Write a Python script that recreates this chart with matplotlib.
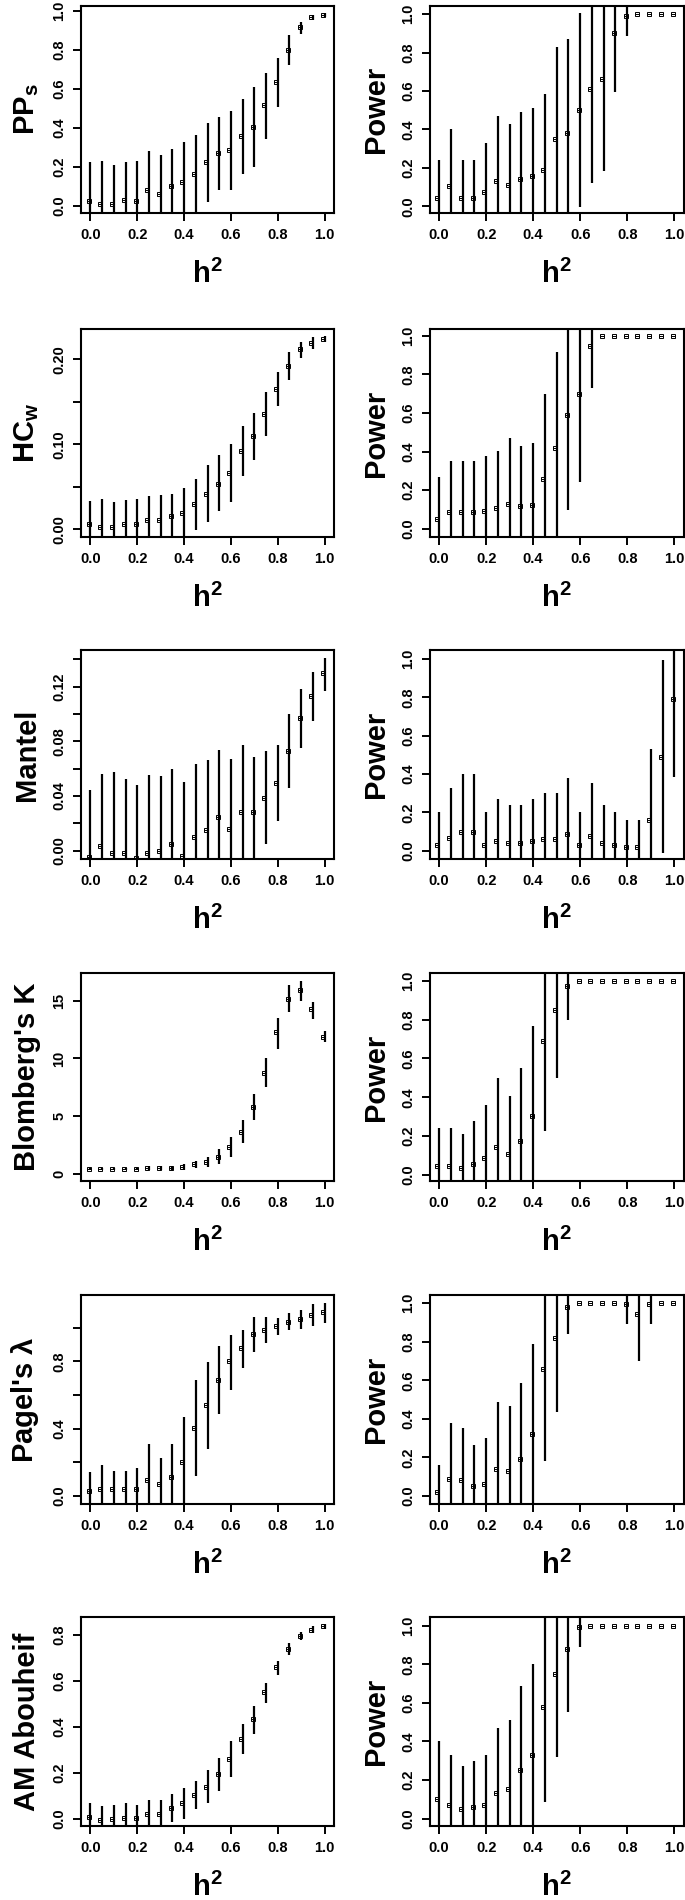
import matplotlib
matplotlib.use("Agg")
import matplotlib.pyplot as plt
import matplotlib.transforms as mtransforms
import numpy as np

plt.rcParams['font.family'] = ['Liberation Sans', 'DejaVu Sans']
plt.rcParams['font.weight'] = 'bold'
plt.rcParams['axes.labelweight'] = 'bold'
plt.rcParams['mathtext.fontset'] = 'custom'
plt.rcParams['mathtext.rm'] = 'Liberation Sans:bold'
plt.rcParams['mathtext.it'] = 'Liberation Sans:bold'
plt.rcParams['mathtext.bf'] = 'Liberation Sans:bold'

h2 = [0.0, 0.05, 0.1, 0.15, 0.2, 0.25, 0.3, 0.35, 0.4, 0.45, 0.5,
      0.55, 0.6, 0.65, 0.7, 0.75, 0.8, 0.85, 0.9, 0.95, 1.0]

# statistic values (median, lower, upper); lower/upper beyond the axis are clipped
pps_med = [0.022, 0.010, 0.010, 0.031, 0.022, 0.082, 0.062, 0.103, 0.120, 0.164, 0.222,
           0.270, 0.287, 0.359, 0.407, 0.518, 0.638, 0.800, 0.920, 0.971, 0.979]
pps_lo = [-0.1, -0.1, -0.1, -0.1, -0.1, -0.1, -0.1, -0.1, -0.1, -0.1, 0.017,
          0.082, 0.082, 0.164, 0.197, 0.344, 0.506, 0.723, 0.885, 0.957, 0.968]
pps_hi = [0.222, 0.227, 0.207, 0.222, 0.227, 0.279, 0.262, 0.292, 0.325, 0.361, 0.427,
          0.458, 0.487, 0.549, 0.609, 0.684, 0.762, 0.877, 0.944, 0.983, 0.990]

pps_pow_med = [0.045, 0.104, 0.045, 0.045, 0.073, 0.133, 0.112, 0.144, 0.156, 0.190, 0.351,
               0.384, 0.502, 0.612, 0.664, 0.903, 0.991, 1.0, 1.0, 1.0, 1.0]
pps_pow_lo = [-0.1, -0.1, -0.1, -0.1, -0.1, -0.1, -0.1, -0.1, -0.1, -0.1, -0.1,
              -0.1, -0.003, 0.119, 0.185, 0.595, 0.888, 1.0, 1.0, 1.0, 1.0]
pps_pow_hi = [0.242, 0.405, 0.242, 0.242, 0.332, 0.472, 0.429, 0.493, 0.514, 0.585, 0.830,
              0.870, 1.007, 1.1, 1.1, 1.1, 1.1, 1.0, 1.0, 1.0, 1.0]

hcw_med = [0.0059, 0.0028, 0.0028, 0.0059, 0.0059, 0.0106, 0.0106, 0.0153, 0.0193, 0.0295, 0.042,
           0.0538, 0.0664, 0.0919, 0.110, 0.1356, 0.165, 0.192, 0.2118, 0.2196, 0.224]
hcw_lo = [-0.02, -0.02, -0.02, -0.02, -0.02, -0.02, -0.02, -0.02, -0.02, -0.001, 0.0086,
          0.0212, 0.0322, 0.0629, 0.0813, 0.1096, 0.145, 0.1756, 0.202, 0.2122, 0.220]
hcw_hi = [0.033, 0.0354, 0.0322, 0.0342, 0.0354, 0.0389, 0.0401, 0.0413, 0.0487, 0.0589, 0.0754,
          0.0872, 0.1002, 0.1214, 0.1371, 0.1619, 0.1855, 0.209, 0.2208, 0.2267, 0.2275]

hcw_pow_med = [0.050, 0.085, 0.085, 0.085, 0.093, 0.105, 0.130, 0.116, 0.121, 0.259, 0.421,
               0.591, 0.699, 0.950, 1.0, 1.0, 1.0, 1.0, 1.0, 1.0, 1.0]
hcw_pow_lo = [-0.1, -0.1, -0.1, -0.1, -0.1, -0.1, -0.1, -0.1, -0.1, -0.1, -0.1,
              0.095, 0.240, 0.729, 1.0, 1.0, 1.0, 1.0, 1.0, 1.0, 1.0]
hcw_pow_hi = [0.268, 0.352, 0.352, 0.352, 0.378, 0.404, 0.473, 0.427, 0.447, 0.699, 0.919,
              1.1, 1.1, 1.1, 1.0, 1.0, 1.0, 1.0, 1.0, 1.0, 1.0]

mantel_med = [-0.0044, 0.0034, -0.0015, -0.002, -0.0056, -0.0015, 0.0, 0.0049, -0.0039, 0.0102, 0.0151,
              0.0249, 0.0159, 0.0285, 0.0285, 0.0388, 0.0498, 0.0732, 0.0973, 0.1134, 0.1298]
mantel_lo = [-0.02, -0.02, -0.02, -0.02, -0.02, -0.02, -0.02, -0.02, -0.02, -0.02, -0.02,
             -0.02, -0.02, -0.02, -0.02, 0.0046, 0.022, 0.0456, 0.0754, 0.0949, 0.117]
mantel_hi = [0.0444, 0.0561, 0.0573, 0.0524, 0.048, 0.0554, 0.0546, 0.0598, 0.0505, 0.0634, 0.0663,
             0.0737, 0.0671, 0.0773, 0.0683, 0.0729, 0.0773, 0.100, 0.118, 0.1305, 0.1407]

mantel_pow_med = [0.031, 0.066, 0.097, 0.097, 0.031, 0.050, 0.042, 0.042, 0.050, 0.061, 0.061,
                  0.089, 0.031, 0.078, 0.042, 0.031, 0.021, 0.021, 0.160, 0.490, 0.791]
mantel_pow_lo = [-0.1, -0.1, -0.1, -0.1, -0.1, -0.1, -0.1, -0.1, -0.1, -0.1, -0.1,
                 -0.1, -0.1, -0.1, -0.1, -0.1, -0.1, -0.1, -0.1, -0.014, 0.383]
mantel_pow_hi = [0.200, 0.329, 0.400, 0.400, 0.200, 0.270, 0.238, 0.238, 0.270, 0.299, 0.299,
                 0.377, 0.200, 0.351, 0.238, 0.200, 0.160, 0.160, 0.530, 0.995, 1.1]

k_med = [0.42, 0.42, 0.42, 0.42, 0.42, 0.52, 0.52, 0.52, 0.62, 0.85, 1.07,
         1.5, 2.31, 3.67, 5.84, 8.73, 12.25, 15.17, 15.9, 14.28, 11.9]
k_lo = [0.3, 0.3, 0.3, 0.3, 0.3, 0.35, 0.35, 0.35, 0.35, 0.49, 0.64,
        0.87, 1.5, 2.66, 4.68, 7.57, 10.84, 13.99, 14.94, 13.44, 11.39]
k_hi = [0.55, 0.55, 0.55, 0.55, 0.55, 0.7, 0.7, 0.7, 0.87, 1.13, 1.45,
        2.17, 3.18, 4.68, 6.91, 10.03, 13.5, 16.39, 16.73, 14.88, 12.34]

k_pow_med = [0.046, 0.046, 0.038, 0.057, 0.086, 0.143, 0.108, 0.175, 0.304, 0.691, 0.851,
             0.971, 1.0, 1.0, 1.0, 1.0, 1.0, 1.0, 1.0, 1.0, 1.0]
k_pow_lo = [-0.1, -0.1, -0.1, -0.1, -0.1, -0.1, -0.1, -0.1, -0.1, 0.229, 0.498,
            0.796, 1.0, 1.0, 1.0, 1.0, 1.0, 1.0, 1.0, 1.0, 1.0]
k_pow_hi = [0.244, 0.244, 0.211, 0.280, 0.361, 0.498, 0.407, 0.550, 0.765, 1.1, 1.1,
            1.1, 1.0, 1.0, 1.0, 1.0, 1.0, 1.0, 1.0, 1.0, 1.0]

lam_med = [0.032, 0.042, 0.042, 0.042, 0.042, 0.095, 0.072, 0.115, 0.203, 0.404, 0.543,
           0.692, 0.801, 0.877, 0.964, 0.986, 1.010, 1.036, 1.054, 1.076, 1.093]
lam_lo = [-0.1, -0.1, -0.1, -0.1, -0.1, -0.1, -0.1, -0.1, -0.1, 0.121, 0.280,
          0.489, 0.632, 0.761, 0.855, 0.907, 0.956, 0.984, 0.990, 1.010, 1.026]
lam_hi = [0.141, 0.185, 0.151, 0.151, 0.165, 0.310, 0.225, 0.310, 0.467, 0.688, 0.795,
          0.891, 0.960, 0.984, 1.064, 1.064, 1.060, 1.085, 1.105, 1.139, 1.149]

lam_pow_med = [0.021, 0.089, 0.083, 0.052, 0.063, 0.141, 0.130, 0.193, 0.323, 0.660, 0.821,
               0.983, 1.0, 1.0, 1.0, 1.0, 0.995, 0.943, 0.995, 1.0, 1.0]
lam_pow_lo = [-0.1, -0.1, -0.1, -0.1, -0.1, -0.1, -0.1, -0.1, -0.1, 0.182, 0.434,
              0.839, 1.0, 1.0, 1.0, 1.0, 0.891, 0.700, 0.891, 1.0, 1.0]
lam_pow_hi = [0.161, 0.378, 0.352, 0.262, 0.300, 0.488, 0.469, 0.587, 0.790, 1.1, 1.1,
              1.1, 1.0, 1.0, 1.0, 1.0, 1.1, 1.1, 1.1, 1.0, 1.0]

am_med = [0.009, -0.006, -0.001, 0.003, 0.003, 0.020, 0.020, 0.048, 0.070, 0.103, 0.139,
          0.193, 0.260, 0.347, 0.433, 0.549, 0.658, 0.739, 0.796, 0.822, 0.836]
am_lo = [-0.05, -0.05, -0.05, -0.05, -0.05, -0.05, -0.05, -0.013, 0.0, 0.041, 0.067,
         0.122, 0.179, 0.280, 0.367, 0.502, 0.626, 0.710, 0.779, 0.807, 0.825]
am_hi = [0.067, 0.055, 0.060, 0.067, 0.060, 0.081, 0.081, 0.107, 0.135, 0.164, 0.212,
         0.263, 0.338, 0.412, 0.491, 0.589, 0.687, 0.764, 0.812, 0.836, 0.846]

am_pow_med = [0.102, 0.071, 0.050, 0.059, 0.071, 0.135, 0.154, 0.253, 0.330, 0.581, 0.751,
              0.881, 0.991, 1.0, 1.0, 1.0, 1.0, 1.0, 1.0, 1.0, 1.0]
am_pow_lo = [-0.1, -0.1, -0.1, -0.1, -0.1, -0.1, -0.1, -0.1, -0.1, 0.085, 0.317,
             0.555, 0.889, 1.0, 1.0, 1.0, 1.0, 1.0, 1.0, 1.0, 1.0]
am_pow_hi = [0.403, 0.330, 0.275, 0.299, 0.330, 0.472, 0.512, 0.689, 0.803, 1.1, 1.1,
             1.1, 1.1, 1.0, 1.0, 1.0, 1.0, 1.0, 1.0, 1.0, 1.0]

stat_labels = ["PP$_\\mathregular{s}$", "HC$_\\mathregular{w}$", "Mantel",
               "Blomberg's K", "Pagel's $\\lambda$", "AM Abouheif"]

stats = [(pps_med, pps_lo, pps_hi), (hcw_med, hcw_lo, hcw_hi),
         (mantel_med, mantel_lo, mantel_hi), (k_med, k_lo, k_hi),
         (lam_med, lam_lo, lam_hi), (am_med, am_lo, am_hi)]
powers = [(pps_pow_med, pps_pow_lo, pps_pow_hi), (hcw_pow_med, hcw_pow_lo, hcw_pow_hi),
          (mantel_pow_med, mantel_pow_lo, mantel_pow_hi), (k_pow_med, k_pow_lo, k_pow_hi),
          (lam_pow_med, lam_pow_lo, lam_pow_hi), (am_pow_med, am_pow_lo, am_pow_hi)]

stat_ylims = [(-0.038, 1.027), (-0.009, 0.2358), (-0.0061, 0.1468),
              (-0.61, 17.4), (-0.048, 1.195), (-0.032, 0.877)]
pow_ylims = [(-0.035, 1.043), (-0.043, 1.036), (-0.0435, 1.047),
             (-0.031, 1.040), (-0.042, 1.043), (-0.038, 1.045)]

# y ticks: (all ticks, labelled ticks)
stat_ticks = [([0, 0.2, 0.4, 0.6, 0.8, 1.0], ["0.0", "0.2", "0.4", "0.6", "0.8", "1.0"]),
              ([0, 0.05, 0.10, 0.15, 0.20], ["0.00", "", "0.10", "", "0.20"]),
              ([0, 0.02, 0.04, 0.06, 0.08, 0.10, 0.12, 0.14],
               ["0.00", "", "0.04", "", "0.08", "", "0.12", ""]),
              ([0, 5, 10, 15], ["0", "5", "10", "15"]),
              ([0, 0.2, 0.4, 0.6, 0.8, 1.0], ["0.0", "", "0.4", "", "0.8", ""]),
              ([0, 0.2, 0.4, 0.6, 0.8], ["0.0", "0.2", "0.4", "0.6", "0.8"])]
pow_ticks = ([0, 0.2, 0.4, 0.6, 0.8, 1.0], ["0.0", "0.2", "0.4", "0.6", "0.8", "1.0"])

row_px = [(6, 213), (329, 537), (650, 859), (973, 1181), (1295, 1504), (1617, 1826)]
W, H = 685, 1900

fig = plt.figure(figsize=(W / 100, H / 100), dpi=100)


def panel(ax, data, ylim, ticks, ylabel):
    med, lo, hi = data
    ax.vlines(h2, lo, hi, colors='black', linewidth=1.6)
    off = mtransforms.offset_copy(ax.transData, fig=fig, x=-1.2, y=0, units='points')
    ax.plot(h2, med, linestyle='none', marker='s', markersize=3.2, mfc='none',
            mec='black', mew=0.7, transform=off)
    ax.plot(h2, med, linestyle='none', marker='_', markersize=3.2, mec='black',
            mew=0.7, transform=off)
    ax.set_xlim(-0.04, 1.04)
    ax.set_ylim(*ylim)
    ax.set_xticks([0, 0.2, 0.4, 0.6, 0.8, 1.0])
    ax.set_xticklabels(["0.0", "0.2", "0.4", "0.6", "0.8", "1.0"])
    ax.set_yticks(ticks[0])
    ax.set_yticklabels(ticks[1], rotation=90, va='center')
    ax.tick_params(length=5.5, width=1.4, labelsize=10.5, pad=5)
    for s in ax.spines.values():
        s.set_linewidth(1.5)
    ax.set_xlabel("h$^\\mathregular{2}$", fontsize=21, fontweight='bold', labelpad=13)
    ax.set_ylabel(ylabel, fontsize=21, fontweight='bold', labelpad=8)


for r in range(6):
    top, bot = row_px[r]
    b = 1 - bot / H
    h = (bot - top) / H
    axl = fig.add_axes([81 / W, b, 253 / W, h])
    panel(axl, stats[r], stat_ylims[r], stat_ticks[r], stat_labels[r])
    axr = fig.add_axes([429.7 / W, b, 254 / W, h])
    panel(axr, powers[r], pow_ylims[r], pow_ticks, "Power")

fig.savefig("out.png", dpi=100)
